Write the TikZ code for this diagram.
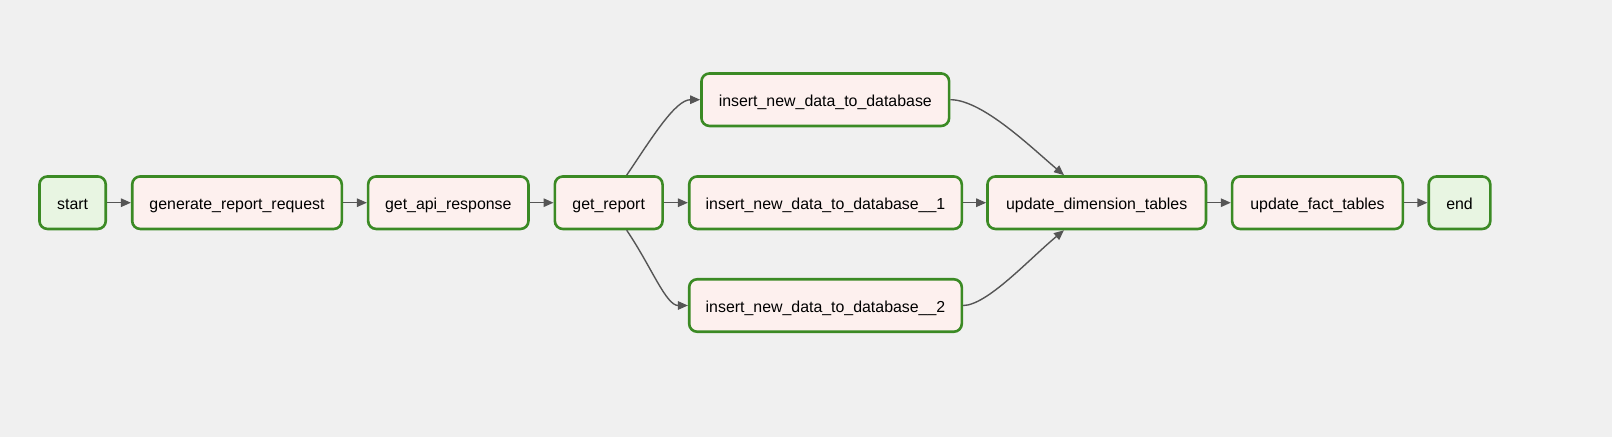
\documentclass[tikz,border=0pt]{standalone}
\usepackage{fontspec}
\setmainfont{Liberation Sans}
\usetikzlibrary{arrows.meta,calc}
\definecolor{bg}{HTML}{F0F0F0}
\definecolor{taskfill}{HTML}{FDF0EE}
\definecolor{endfill}{HTML}{E8F5E2}
\definecolor{taskborder}{HTML}{3B8A24}
\definecolor{edgecol}{HTML}{555555}
\tikzset{
  task/.style={draw=taskborder, fill=taskfill, line width=2.6pt, rounded corners=8pt,
    minimum height=52.5pt, inner sep=0pt, text height=14pt, text depth=1pt,
    font=\fontsize{15.9}{19}\selectfont, text=black},
  terminal/.style={task, fill=endfill},
  edge/.style={draw=edgecol, line width=1.4pt, -{Triangle[length=10pt,width=8.5pt]}},
}
\begin{document}
\begin{tikzpicture}[x=1pt,y=-1pt]
\useasboundingbox[fill=bg] (0,0) rectangle (1612,437);
\node[terminal, minimum width=66.3pt] (start) at (72.6,202.7) {start};
\node[task, minimum width=209.6pt] (gen) at (237,202.7) {generate\_report\_request};
\node[task, minimum width=160.3pt] (api) at (448.3,202.7) {get\_api\_response};
\node[task, minimum width=107.7pt] (gr) at (608.7,202.7) {get\_report};
\node[task, minimum width=247.7pt] (ins) at (825.3,99.7) {insert\_new\_data\_to\_database};
\node[task, minimum width=272.6pt] (ins1) at (825.5,202.7) {insert\_new\_data\_to\_database\_\_1};
\node[task, minimum width=272.6pt] (ins2) at (825.5,305.5) {insert\_new\_data\_to\_database\_\_2};
\node[task, minimum width=218.5pt] (ud) at (1096.7,202.7) {update\_dimension\_tables};
\node[task, minimum width=170.8pt] (uf) at (1317.5,202.7) {update\_fact\_tables};
\node[terminal, minimum width=61.6pt] (end) at (1459.5,202.7) {end};

\draw[edge] (start) -- (gen);
\draw[edge] (gen) -- (api);
\draw[edge] (api) -- (gr);
\draw[edge] (gr) -- (ins1);
\draw[edge] (ins1) -- (ud);
\draw[edge] (ud) -- (uf);
\draw[edge] (uf) -- (end);

\draw[edge] ([xshift=18pt]gr.north) .. controls +(25,-37) and +(-25,0) .. (ins.west);
\draw[edge] ([xshift=18pt]gr.south) .. controls +(25,37) and +(-22,0) .. (ins2.west);
\draw[edge] (ins.east) .. controls +(32,0) and +(-32,-27) .. ([xshift=-32.7pt]ud.north);
\draw[edge] (ins2.east) .. controls +(24,0) and +(-34,28) .. ([xshift=-32.7pt]ud.south);
\end{tikzpicture}
\end{document}
